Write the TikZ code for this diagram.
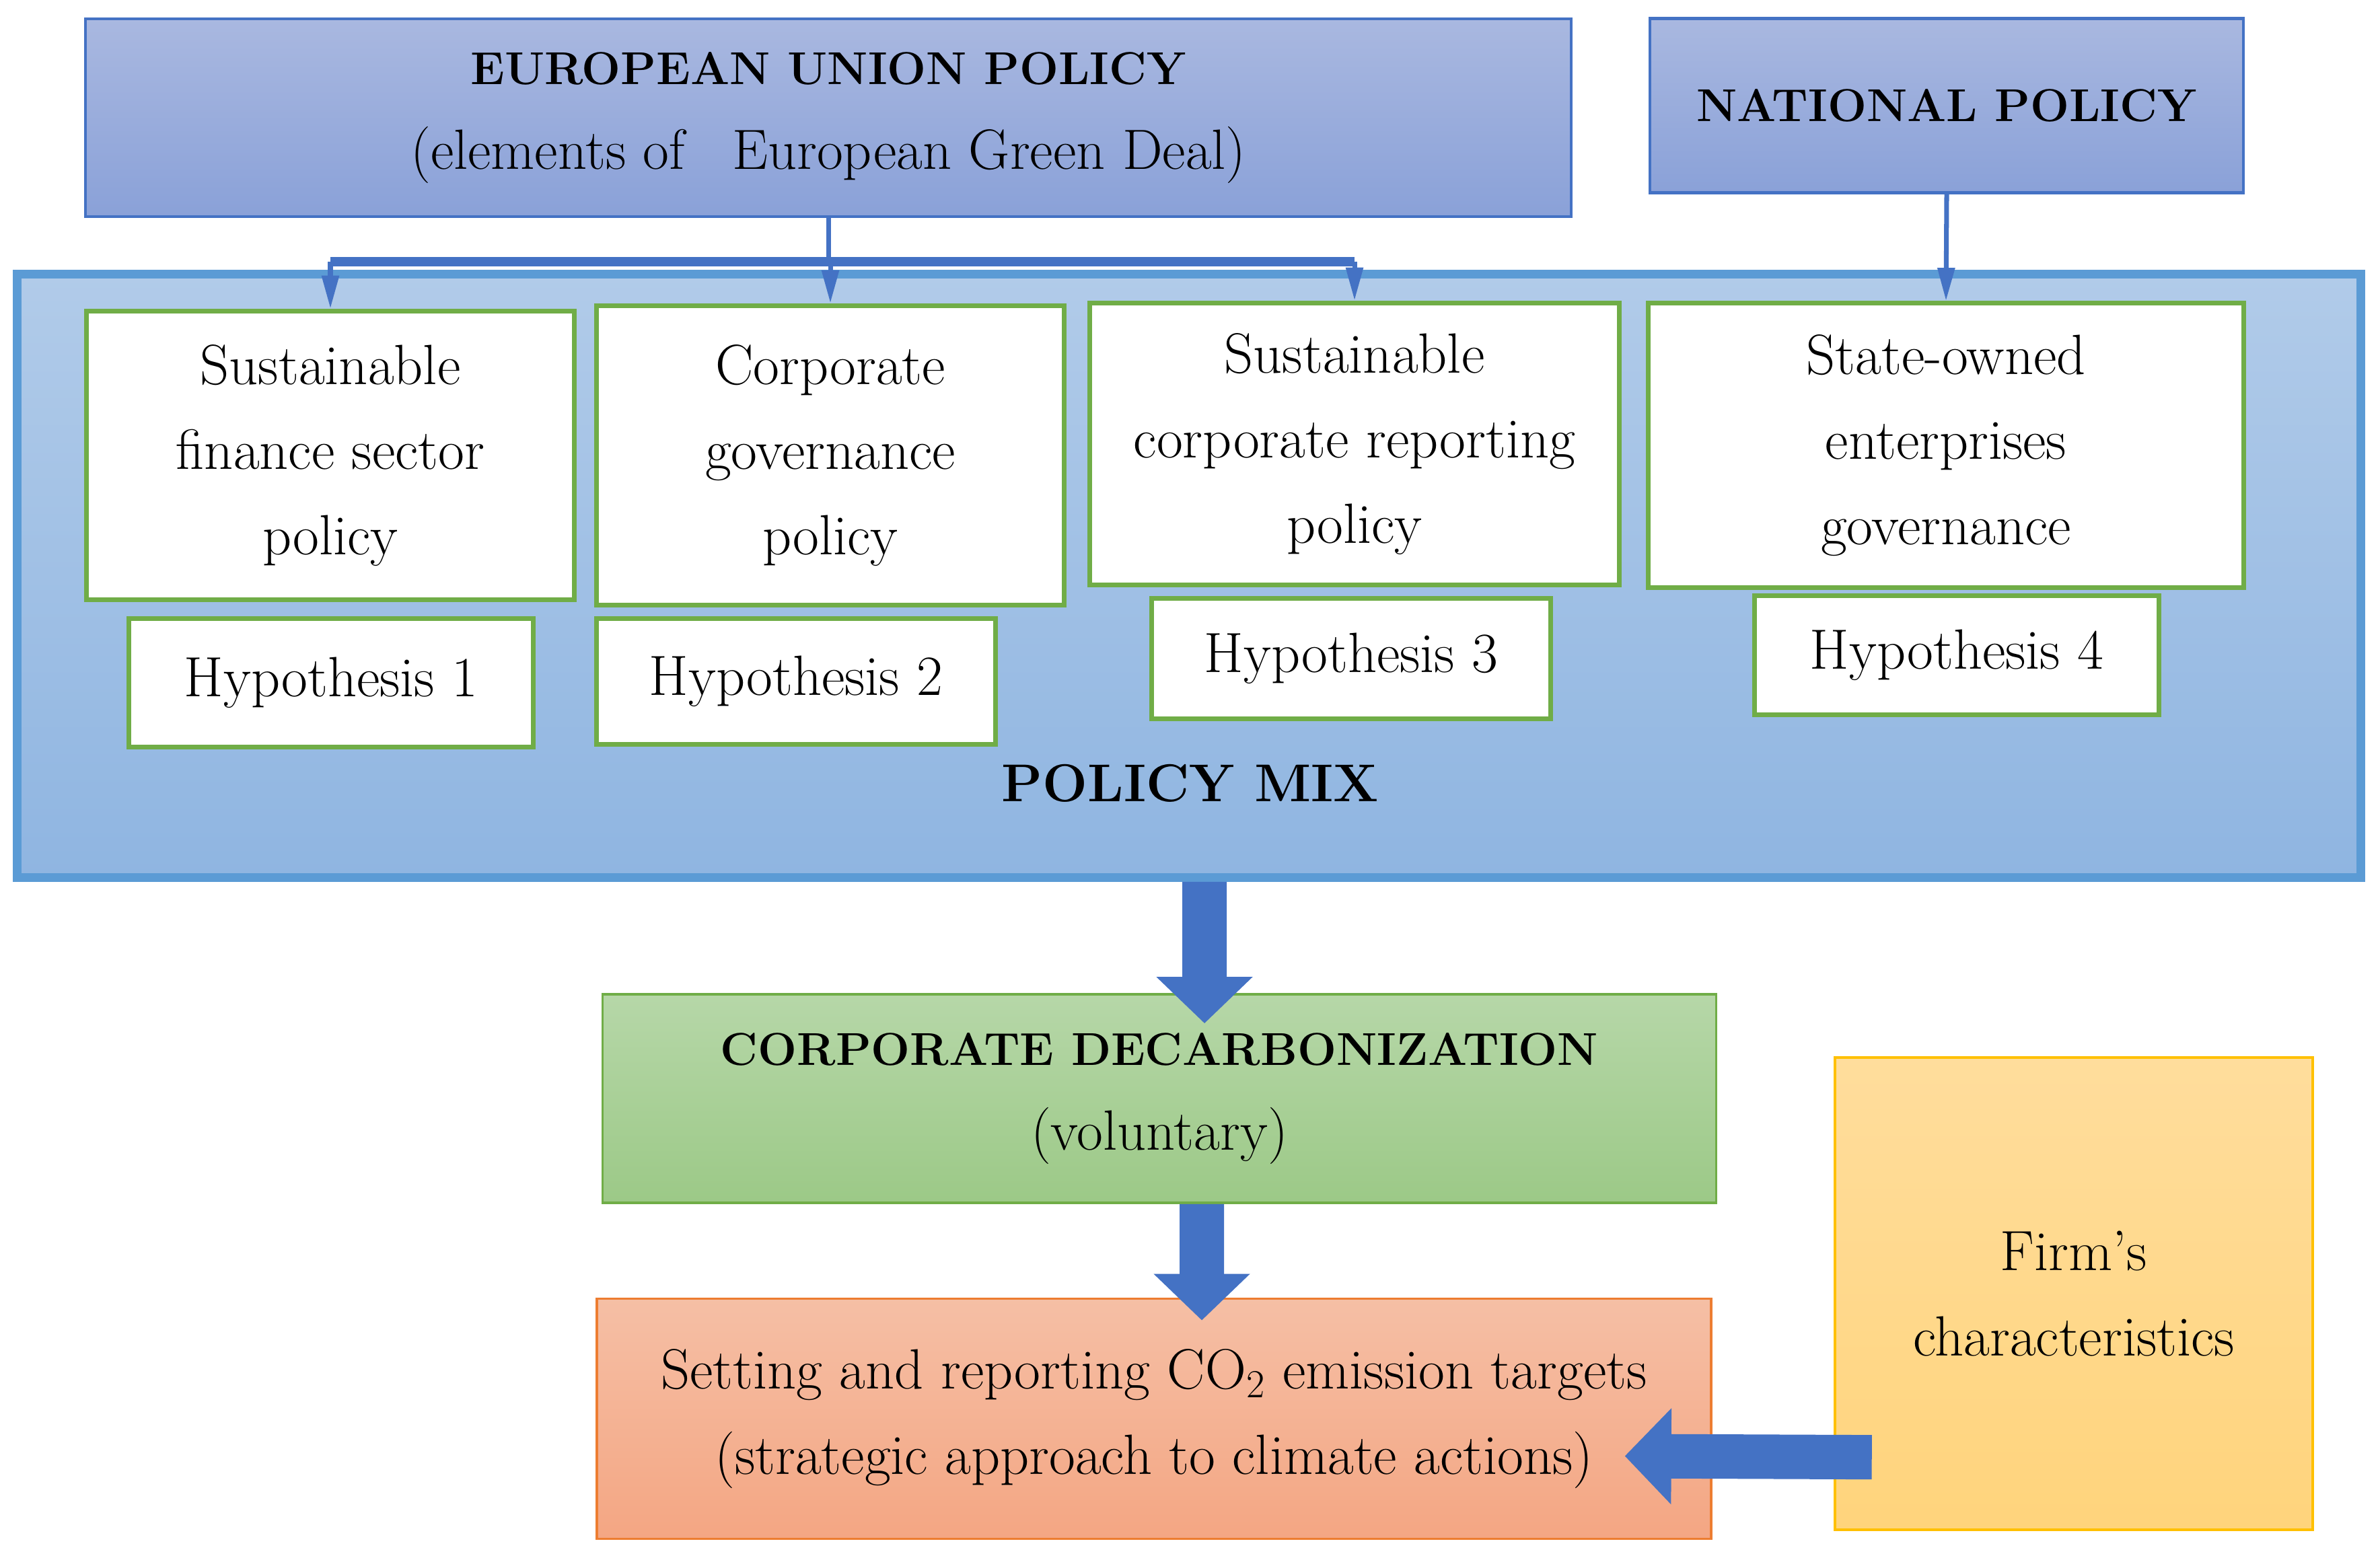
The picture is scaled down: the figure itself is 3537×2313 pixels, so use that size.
\documentclass[tikz,border=0pt]{standalone}
\usetikzlibrary{arrows.meta}
\definecolor{euline}{HTML}{4472C4}
\definecolor{eutop}{HTML}{A9B8E0}
\definecolor{eubot}{HTML}{8AA1D8}
\definecolor{mixline}{HTML}{5B9BD5}
\definecolor{mixtop}{HTML}{B1CBE9}
\definecolor{mixbot}{HTML}{8FB5E1}
\definecolor{grline}{HTML}{70AD47}
\definecolor{grtop}{HTML}{B6D7A8}
\definecolor{grbot}{HTML}{9CC987}
\definecolor{orline}{HTML}{ED7D31}
\definecolor{ortop}{HTML}{F5BFA5}
\definecolor{orbot}{HTML}{F4A683}
\definecolor{yeline}{HTML}{FFC000}
\definecolor{yetop}{HTML}{FFDD9C}
\definecolor{yebot}{HTML}{FFD47C}
\newcommand{\boxtitle}{\fontsize{19.5}{36}\selectfont\bfseries}
\tikzset{
  body/.style={font=\fontsize{24}{36}\selectfont, align=center, inner sep=0pt},
  policybox/.style={body, draw=euline, line width=1.2pt, top color=eutop, bottom color=eubot},
  mixbox/.style={draw=mixline, line width=3.7pt, top color=mixtop, bottom color=mixbot},
  greenbox/.style={body, draw=grline, line width=2pt, fill=white},
  link/.style={euline, line width=2pt},
  bar/.style={euline, line width=4pt},
  fat/.style={euline, line width=0.66cm, -{Triangle[width=1.39cm,length=0.69cm]}}
}
\begin{document}
\begin{tikzpicture}[x=0.01cm, y=-0.01cm]
\useasboundingbox (0,0) rectangle (3537,2313);
%% policy sources
\node[policybox, minimum width=22.06cm, minimum height=2.94cm] (eu) at (1231,175)
  {{\boxtitle EUROPEAN UNION POLICY}\\(elements of\hspace{20pt}European Green Deal)};
\node[policybox, minimum width=8.82cm, minimum height=2.59cm] (nat) at (2893,157)
  {\boxtitle NATIONAL POLICY};
%% policy mix
\node[mixbox, minimum width=34.81cm, minimum height=8.96cm] (mix) at (1767,856) {};
\node[body, font=\fontsize{22.5}{36}\selectfont\bfseries] (mixlabel) at (1769,1164) {POLICY MIX};
\node[greenbox, minimum width=7.24cm, minimum height=4.29cm] (fin) at (491,677)
  {Sustainable\\finance sector\\policy};
\node[greenbox, minimum width=6.94cm, minimum height=4.45cm] (gov) at (1234,677)
  {Corporate\\governance\\policy};
\node[greenbox, minimum width=7.87cm, minimum height=4.19cm] (rep) at (2013,660)
  {Sustainable\\corporate reporting\\policy};
\node[greenbox, minimum width=8.84cm, minimum height=4.22cm] (soe) at (2892,662)
  {State-owned\\enterprises\\governance};
\node[greenbox, minimum width=6.00cm, minimum height=1.90cm] (h1) at (492,1015) {Hypothesis 1};
\node[greenbox, minimum width=5.93cm, minimum height=1.87cm] (h2) at (1183,1013) {Hypothesis 2};
\node[greenbox, minimum width=5.93cm, minimum height=1.79cm] (h3) at (2008,979) {Hypothesis 3};
\node[greenbox, minimum width=6.00cm, minimum height=1.76cm] (h4) at (2908,974) {Hypothesis 4};
%% outcomes
\node[body, draw=grline, line width=1pt, top color=grtop, bottom color=grbot,
  minimum width=16.54cm, minimum height=3.10cm] (decarb) at (1723,1633)
  {{\boxtitle CORPORATE DECARBONIZATION}\\(voluntary)};
\node[body, draw=orline, line width=1pt, top color=ortop, bottom color=orbot,
  minimum width=16.55cm, minimum height=3.57cm] (setting) at (1715,2109)
  {Setting and reporting CO\textsubscript{2} emission targets\\(strategic approach to climate actions)};
\node[body, draw=yeline, line width=1.2pt, top color=yetop, bottom color=yebot,
  minimum width=7.10cm, minimum height=7.02cm] (firm) at (3082,1923)
  {Firm’s\\characteristics};
%% connectors
\coordinate (split) at ([yshift=-0.65cm]eu.south);
\draw[link] (eu.south) -- (split);
\draw[bar] (split -| fin.north) -- (split -| rep.north);
\foreach \b in {fin,gov,rep}
  \draw[link, -{Triangle[width=7pt,length=14pt]}] (split -| \b.north) -- (\b.north);
\draw[link, -{Triangle[width=7pt,length=14pt]}] (nat.south) -- (soe.north);
%% block arrows
\draw[fat, shorten >=-0.45cm] ([xshift=0.23cm]mix.south) -- ([xshift=0.67cm]decarb.north);
\draw[fat, shorten >=-0.34cm] ([xshift=0.63cm]decarb.south) -- ([xshift=0.71cm]setting.north);
\draw[fat, shorten >=-1.3cm] ([xshift=0.57cm,yshift=-2.43cm]firm.west) -- ([yshift=-0.56cm]setting.east);
\end{tikzpicture}
\end{document}
